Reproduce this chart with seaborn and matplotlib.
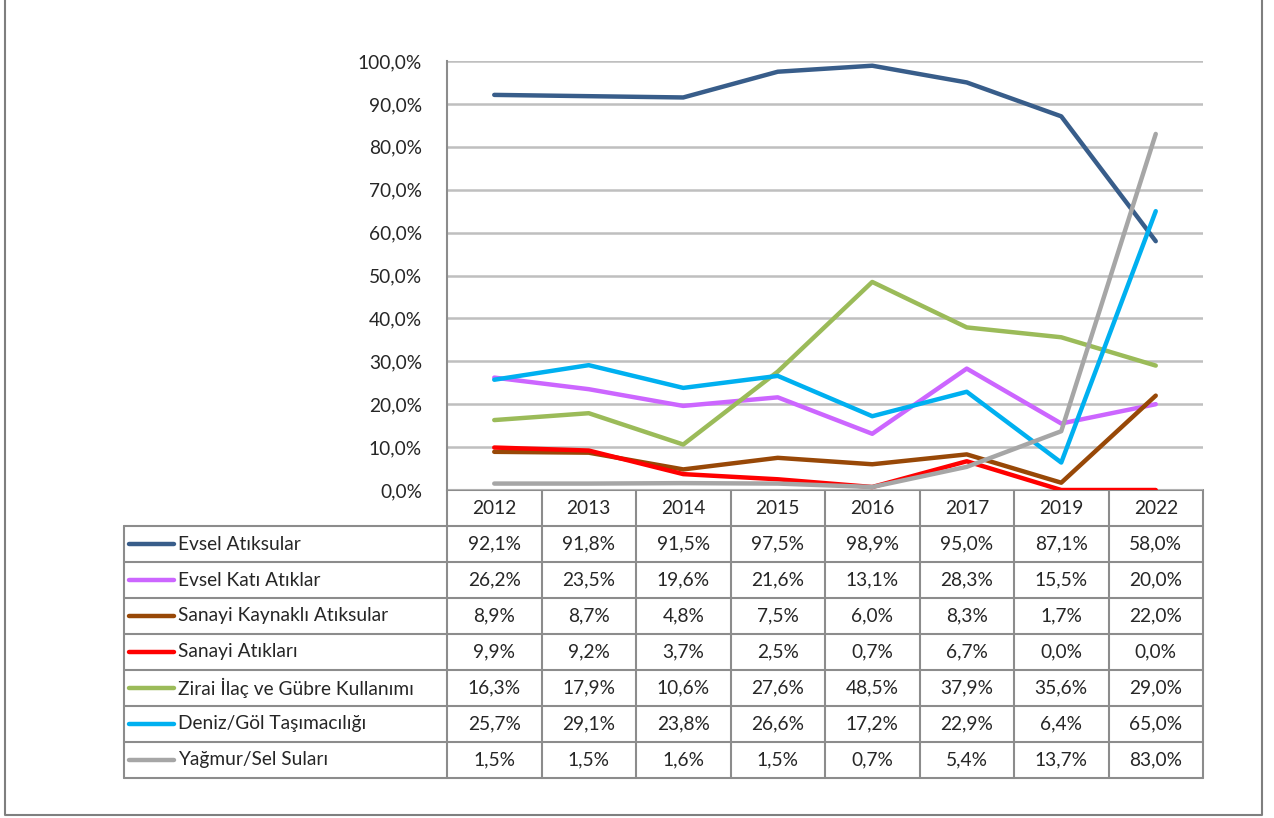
import numpy as np
import pandas as pd
import seaborn as sns
import matplotlib.pyplot as plt

years = ["2012", "2013", "2014", "2015", "2016", "2017", "2019", "2022"]
series_names = ["Evsel Atıksular", "Evsel Katı Atıklar", "Sanayi Kaynaklı Atıksular",
                "Sanayi Atıkları", "Zirai İlaç ve Gübre Kullanımı",
                "Deniz/Göl Taşımacılığı", "Yağmur/Sel Suları"]
evsel_atiksular = [92.1, 91.8, 91.5, 97.5, 98.9, 95.0, 87.1, 58.0]
evsel_kati = [26.2, 23.5, 19.6, 21.6, 13.1, 28.3, 15.5, 20.0]
sanayi_kaynakli = [8.9, 8.7, 4.8, 7.5, 6.0, 8.3, 1.7, 22.0]
sanayi_atiklari = [9.9, 9.2, 3.7, 2.5, 0.7, 6.7, 0.0, 0.0]
zirai = [16.3, 17.9, 10.6, 27.6, 48.5, 37.9, 35.6, 29.0]
deniz_gol = [25.7, 29.1, 23.8, 26.6, 17.2, 22.9, 6.4, 65.0]
yagmur_sel = [1.5, 1.5, 1.6, 1.5, 0.7, 5.4, 13.7, 83.0]
all_values = [evsel_atiksular, evsel_kati, sanayi_kaynakli, sanayi_atiklari,
              zirai, deniz_gol, yagmur_sel]
colors = ["#385D8A", "#CC66FF", "#984807", "#FF0000", "#9BBB59", "#00B0F0", "#A6A6A6"]

rows = []
for name, vals in zip(series_names, all_values):
    for i, v in enumerate(vals):
        rows.append({"pos": i, "year": years[i], "series": name, "value": v})
df = pd.DataFrame(rows)

sns.set_style("white")
plt.rcParams["font.family"] = ["Lato", "DejaVu Sans"]
FS = 13.8

W, H = 1274, 818
fig = plt.figure(figsize=(W / 100, H / 100), dpi=100)

# plot area in pixels
px0, px1, py_top, py_bot = 447, 1203, 61, 490
ax = fig.add_axes([px0 / W, 1 - py_bot / H, (px1 - px0) / W, (py_bot - py_top) / H])
sns.lineplot(data=df, x="pos", y="value", hue="series", palette=colors,
             hue_order=series_names, linewidth=3.2, legend=False, sort=False, ax=ax,
             solid_capstyle="round", zorder=3)
ax.set_xlim(-0.5, len(years) - 0.5)
ax.set_ylim(0, 100)
ax.set_yticks(np.arange(0, 101, 10))
ax.set_yticklabels([f"{t:.1f}%".replace(".", ",") for t in np.arange(0, 101, 10)], fontsize=FS)
ax.set_xticks([])
ax.set_xlabel("")
ax.set_ylabel("")
ax.tick_params(axis="y", length=0, pad=18)
ax.grid(axis="y", color="#BFBFBF", linewidth=1.8)
ax.set_axisbelow(True)
for s in ["top", "right", "bottom"]:
    ax.spines[s].set_visible(False)
ax.spines["left"].set_color("#8C8C8C")
ax.spines["left"].set_linewidth(1.5)
ax.patch.set_alpha(0)

# data table drawn on an overlay axes in pixel units
tb = fig.add_axes([0, 0, 1, 1], zorder=-1)
tb.set_xlim(0, W)
tb.set_ylim(H, 0)
tb.axis("off")
lc = "#8C8C8C"
lw = 1.5
col_w = (px1 - px0) / len(years)
row_h = 36
tx0 = 124
header_top = py_bot
body_top = header_top + row_h
body_bot = body_top + row_h * len(series_names)

# outer frame
tb.plot([5, 5, 1262, 1262], [0, 815, 815, 0], color="#7F7F7F", lw=1.5)

# header row
tb.plot([px0, px1], [header_top, header_top], color=lc, lw=lw)
for i in range(len(years) + 1):
    x = px0 + i * col_w
    tb.plot([x, x], [header_top, body_bot], color=lc, lw=lw)
for i, yr in enumerate(years):
    tb.text(px0 + (i + 0.5) * col_w, header_top + row_h / 2, yr,
            ha="center", va="center", fontsize=FS)
# body rows
for r in range(len(series_names) + 1):
    y = body_top + r * row_h
    tb.plot([tx0, px1], [y, y], color=lc, lw=lw)
tb.plot([tx0, tx0], [body_top, body_bot], color=lc, lw=lw)
for r, (name, vals, c) in enumerate(zip(series_names, all_values, colors)):
    yc = body_top + (r + 0.5) * row_h
    tb.plot([129, 174], [yc, yc], color=c, lw=3.2, solid_capstyle="round")
    tb.text(178, yc, name, ha="left", va="center", fontsize=FS)
    for i, v in enumerate(vals):
        tb.text(px0 + (i + 0.5) * col_w, yc, f"{v:.1f}%".replace(".", ","),
                ha="center", va="center", fontsize=FS)

fig.savefig("out.png", dpi=100)
